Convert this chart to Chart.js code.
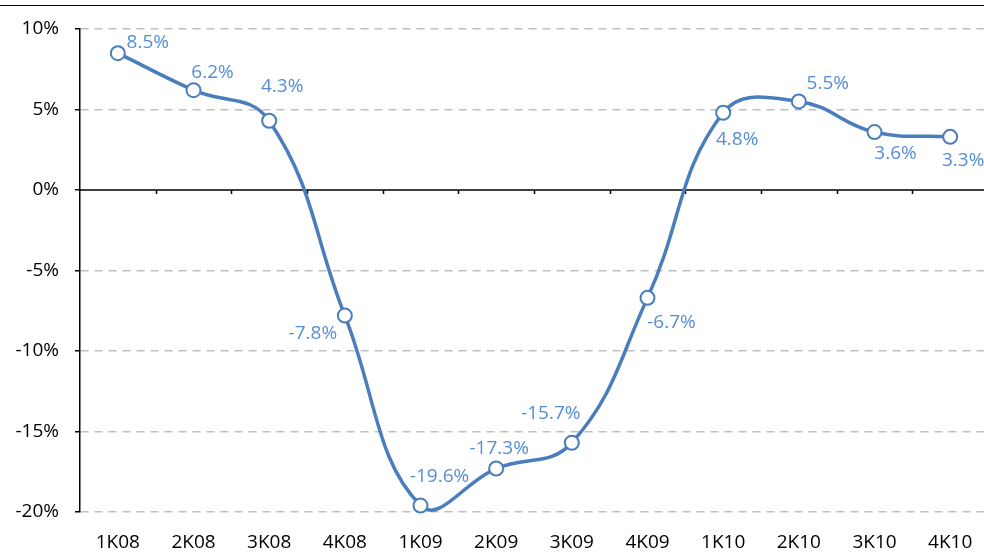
<!DOCTYPE html>
<html>
<head>
<meta charset="utf-8">
<script src="https://cdn.jsdelivr.net/npm/chart.js@4"></script>
<style>
  html, body { margin: 0; padding: 0; overflow: hidden; background: #fff; }
  #topline { position: absolute; left: 0; top: 5px; width: 984px; border-top: 1.5px solid #000; }
  #wrap { position: absolute; left: 0; top: 0; width: 997px; height: 552px; }
</style>
</head>
<body>
<div id="wrap"><canvas id="myChart"></canvas></div>
<div id="topline"></div>
<script>
const quarters = ['1K08', '2K08', '3K08', '4K08', '1K09', '2K09', '3K09', '4K09', '1K10', '2K10', '3K10', '4K10'];
const growth = [8.5, 6.2, 4.3, -7.8, -19.6, -17.3, -15.7, -6.7, 4.8, 5.5, 3.6, 3.3];
const yTicks = [-20, -15, -10, -5, 0, 5, 10];

// where each value label sits relative to its point (px)
const labelShift = [[30, -11], [19, -18], [13, -34], [-32, 18], [19, -29], [3, -20],
                    [-21, -29], [24, 25], [14, 27], [29, -18], [21, 22], [13, 24]];

const fontFam = '"Open Sans", "Noto Sans", sans-serif';

const extras = {
  id: 'extras',
  beforeDatasetsDraw(chart) {
    const c = chart.ctx, area = chart.chartArea;
    const y0 = chart.scales.y.getPixelForValue(0);
    const step = (area.right - area.left) / quarters.length;
    c.save();
    c.strokeStyle = '#000';
    c.lineWidth = 1.5;
    c.beginPath();
    c.moveTo(area.left, y0);
    c.lineTo(area.right, y0);
    for (let i = 1; i <= quarters.length; i++) {
      const x = Math.round(area.left + i * step) + 0.5;
      c.moveTo(x, y0);
      c.lineTo(x, y0 + 4);
    }
    c.stroke();
    c.restore();
  },
  afterDatasetsDraw(chart) {
    const c = chart.ctx;
    const pts = chart.getDatasetMeta(0).data;
    c.save();
    c.font = '19px ' + fontFam;
    c.fillStyle = '#558ED5';
    c.textAlign = 'center';
    c.textBaseline = 'middle';
    pts.forEach((p, i) => {
      const s = labelShift[i];
      c.fillText(growth[i].toFixed(1) + '%', p.x + s[0], p.y + s[1]);
    });
    c.restore();
  }
};

new Chart(document.getElementById('myChart'), {
  type: 'line',
  data: {
    labels: quarters,
    datasets: [{
      data: growth,
      borderColor: '#4A7EBB',
      borderWidth: 3.5,
      tension: 0.42,
      clip: false,
      pointRadius: 7,
      pointBorderWidth: 2,
      pointBackgroundColor: '#fff',
      pointBorderColor: '#4A7EBB'
    }]
  },
  options: {
    responsive: true,
    maintainAspectRatio: false,
    animation: false,
    events: [],
    layout: { padding: { top: 29, left: 0, right: 0, bottom: 0 } },
    elements: { line: { capBezierPoints: false } },
    plugins: { legend: { display: false }, tooltip: { enabled: false } },
    scales: {
      x: {
        offset: true,
        grid: { display: false, drawTicks: false },
        border: { display: false },
        ticks: { color: '#000', font: { family: fontFam, size: 19 }, padding: 19, maxRotation: 0 },
        afterFit(s) { s.height = 40; }
      },
      y: {
        min: -20,
        max: 10,
        afterBuildTicks(s) { s.ticks = yTicks.map(v => ({ value: v })); },
        grid: {
          color: ctx => ctx.tick && ctx.tick.value === 0 ? 'rgba(0,0,0,0)' : '#BFBFBF',
          lineWidth: 1.5,
          tickColor: '#000',
          tickLength: 5,
          tickWidth: 1.5
        },
        border: { color: '#000', width: 1.5, dash: [8, 6] },
        ticks: {
          color: '#000',
          font: { family: fontFam, size: 19 },
          padding: 16,
          callback: v => v + '%'
        },
        afterFit(s) { s.width = 80; }
      }
    }
  },
  plugins: [extras]
});
</script>
</body>
</html>
